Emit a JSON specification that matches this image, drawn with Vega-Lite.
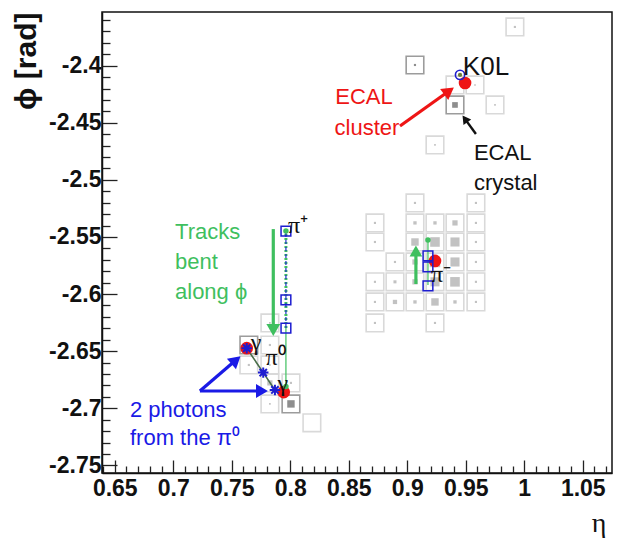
{
  "$schema": "https://vega.github.io/schema/vega-lite/v6.json",
  "autosize": {"type": "none"},
  "width": 510,
  "height": 461,
  "padding": {"left": 102, "top": 12, "right": 7, "bottom": 70},
  "background": "white",
  "config": {
    "view": {"stroke": "#111", "strokeWidth": 1.5},
    "axis": {
      "grid": false,
      "domainColor": "#111",
      "domainWidth": 1.5,
      "tickColor": "#222",
      "tickWidth": 1.3,
      "labelFont": "Liberation Sans",
      "labelFontWeight": "bold",
      "labelFontSize": 23,
      "labelColor": "#111",
      "titleColor": "#111"
    }
  },
  "resolve": {"scale": {"color": "independent", "stroke": "independent", "size": "independent"}},
  "datasets": {
    "crystals": [
      {"eta": 0.9066, "phi": -2.5202, "energy": 0.05, "seed": "no"},
      {"eta": 0.9587, "phi": -2.5202, "energy": 0.05, "seed": "no"},
      {"eta": 0.8724, "phi": -2.5377, "energy": 0.05, "seed": "no"},
      {"eta": 0.9066, "phi": -2.5377, "energy": 0.12, "seed": "no"},
      {"eta": 0.9237, "phi": -2.5377, "energy": 0.12, "seed": "no"},
      {"eta": 0.9408, "phi": -2.5377, "energy": 0.3, "seed": "no"},
      {"eta": 0.9587, "phi": -2.5377, "energy": 0.05, "seed": "no"},
      {"eta": 0.8724, "phi": -2.5544, "energy": 0.05, "seed": "no"},
      {"eta": 0.9066, "phi": -2.5544, "energy": 0.6, "seed": "no"},
      {"eta": 0.9237, "phi": -2.5544, "energy": 1.0, "seed": "no"},
      {"eta": 0.9408, "phi": -2.5544, "energy": 0.9, "seed": "no"},
      {"eta": 0.9587, "phi": -2.5544, "energy": 0.05, "seed": "no"},
      {"eta": 0.8895, "phi": -2.5719, "energy": 0.05, "seed": "no"},
      {"eta": 0.9066, "phi": -2.5719, "energy": 0.3, "seed": "no"},
      {"eta": 0.9237, "phi": -2.5719, "energy": 1.2, "seed": "no"},
      {"eta": 0.9408, "phi": -2.5719, "energy": 0.9, "seed": "no"},
      {"eta": 0.9587, "phi": -2.5719, "energy": 0.05, "seed": "no"},
      {"eta": 0.8724, "phi": -2.5893, "energy": 0.05, "seed": "no"},
      {"eta": 0.8895, "phi": -2.5893, "energy": 0.1, "seed": "no"},
      {"eta": 0.9066, "phi": -2.5893, "energy": 0.3, "seed": "no"},
      {"eta": 0.9237, "phi": -2.5893, "energy": 0.9, "seed": "no"},
      {"eta": 0.9408, "phi": -2.5893, "energy": 1.0, "seed": "no"},
      {"eta": 0.9587, "phi": -2.5893, "energy": 0.05, "seed": "no"},
      {"eta": 0.8724, "phi": -2.6069, "energy": 0.05, "seed": "no"},
      {"eta": 0.8895, "phi": -2.6069, "energy": 0.2, "seed": "no"},
      {"eta": 0.9066, "phi": -2.6069, "energy": 0.12, "seed": "no"},
      {"eta": 0.9237, "phi": -2.6069, "energy": 0.6, "seed": "no"},
      {"eta": 0.9408, "phi": -2.6069, "energy": 0.12, "seed": "no"},
      {"eta": 0.9587, "phi": -2.6069, "energy": 0.05, "seed": "no"},
      {"eta": 0.8724, "phi": -2.6253, "energy": 0.05, "seed": "no"},
      {"eta": 0.9237, "phi": -2.6253, "energy": 0.05, "seed": "no"},
      {"eta": 0.992, "phi": -2.3661, "energy": 0.05, "seed": "no"},
      {"eta": 0.9066, "phi": -2.3994, "energy": 0.05, "seed": "yes"},
      {"eta": 0.9408, "phi": -2.4169, "energy": 0.0, "seed": "no"},
      {"eta": 0.9579, "phi": -2.4169, "energy": 0.03, "seed": "no"},
      {"eta": 0.9408, "phi": -2.4344, "energy": 0.35, "seed": "yes"},
      {"eta": 0.975, "phi": -2.4344, "energy": 0.03, "seed": "no"},
      {"eta": 0.9237, "phi": -2.4694, "energy": 0.03, "seed": "no"},
      {"eta": 0.7826, "phi": -2.6253, "energy": 0.03, "seed": "no"},
      {"eta": 0.7646, "phi": -2.6446, "energy": 0.05, "seed": "yes"},
      {"eta": 0.7826, "phi": -2.6446, "energy": 0.05, "seed": "no"},
      {"eta": 0.7646, "phi": -2.6621, "energy": 0.05, "seed": "no"},
      {"eta": 0.7826, "phi": -2.6621, "energy": 0.03, "seed": "no"},
      {"eta": 0.7826, "phi": -2.6778, "energy": 0.3, "seed": "no"},
      {"eta": 0.8006, "phi": -2.6778, "energy": 0.05, "seed": "no"},
      {"eta": 0.7826, "phi": -2.6962, "energy": 0.03, "seed": "no"},
      {"eta": 0.8006, "phi": -2.6962, "energy": 0.6, "seed": "yes"},
      {"eta": 0.8185, "phi": -2.7128, "energy": 0.0, "seed": "no"}
    ],
    "tracks": [
      {"track": "piplus_ext", "eta": 0.7963, "phi": -2.5448},
      {"track": "piplus_ext", "eta": 0.7963, "phi": -2.6298},
      {"track": "piplus_tail", "eta": 0.7963, "phi": -2.6298},
      {"track": "piplus_tail", "eta": 0.7963, "phi": -2.681},
      {"track": "piminus", "eta": 0.9177, "phi": -2.5527},
      {"track": "piminus", "eta": 0.9177, "phi": -2.592},
      {"track": "pi0", "eta": 0.7628, "phi": -2.6474},
      {"track": "pi0", "eta": 0.7769, "phi": -2.6688},
      {"track": "pi0", "eta": 0.7869, "phi": -2.684}
    ],
    "hits": [
      {"kind": "track", "eta": 0.7963, "phi": -2.5448},
      {"kind": "track", "eta": 0.7963, "phi": -2.6052},
      {"kind": "track", "eta": 0.7963, "phi": -2.6298},
      {"kind": "track", "eta": 0.9177, "phi": -2.5666},
      {"kind": "track", "eta": 0.9177, "phi": -2.5763},
      {"kind": "track", "eta": 0.9177, "phi": -2.5929},
      {"kind": "trackend", "eta": 0.7963, "phi": -2.5448},
      {"kind": "trackend", "eta": 0.7963, "phi": -2.681},
      {"kind": "trackend", "eta": 0.9177, "phi": -2.5527},
      {"kind": "cluster", "eta": 0.7628, "phi": -2.6474},
      {"kind": "cluster", "eta": 0.7944, "phi": -2.6859},
      {"kind": "cluster", "eta": 0.9237, "phi": -2.571},
      {"kind": "cluster", "eta": 0.9494, "phi": -2.4152},
      {"kind": "photon", "eta": 0.7628, "phi": -2.6474},
      {"kind": "photon", "eta": 0.7769, "phi": -2.6688},
      {"kind": "photon", "eta": 0.7869, "phi": -2.684},
      {"kind": "neutral", "eta": 0.9451, "phi": -2.4081}
    ],
    "arrows": [
      {"id": "red", "group": "ECAL cluster", "eta": 0.8938, "phi": -2.4528, "eta2": 0.9357, "phi2": -2.4222},
      {"id": "black", "group": "ECAL crystal", "eta": 0.9587, "phi": -2.4598, "eta2": 0.9493, "phi2": -2.4466},
      {"id": "down", "group": "Tracks", "eta": 0.7855, "phi": -2.5431, "eta2": 0.7855, "phi2": -2.6315},
      {"id": "up", "group": "Tracks", "eta": 0.9074, "phi": -2.5912, "eta2": 0.9074, "phi2": -2.5623},
      {"id": "blue1", "group": "Photons", "eta": 0.7228, "phi": -2.6849, "eta2": 0.7536, "phi2": -2.6578},
      {"id": "blue2", "group": "Photons", "eta": 0.7228, "phi": -2.6849, "eta2": 0.7758, "phi2": -2.6849}
    ],
    "notes": [
      {"group": "ECAL cluster", "text": "ECAL", "eta": 0.863, "phi": -2.4274},
      {"group": "ECAL cluster", "text": "cluster", "eta": 0.8656, "phi": -2.4545},
      {"group": "ECAL crystal", "text": "ECAL", "eta": 0.957, "phi": -2.4764},
      {"group": "ECAL crystal", "text": "crystal", "eta": 0.957, "phi": -2.5027},
      {"group": "Tracks", "text": "Tracks", "eta": 0.7015, "phi": -2.5457},
      {"group": "Tracks", "text": "bent", "eta": 0.7015, "phi": -2.572},
      {"group": "Tracks", "text": "along ϕ", "eta": 0.7015, "phi": -2.5983},
      {"group": "Photons", "text": "2 photons", "eta": 0.663, "phi": -2.7015},
      {"group": "Photons", "text": "from the π⁰", "eta": 0.663, "phi": -2.726}
    ],
    "particles": [
      {"text": "π⁺", "eta": 0.8066, "phi": -2.5404},
      {"text": "π⁰", "eta": 0.7875, "phi": -2.6562},
      {"text": "γ", "eta": 0.7707, "phi": -2.6428},
      {"text": "γ", "eta": 0.7937, "phi": -2.6785},
      {"text": "π⁻", "eta": 0.929, "phi": -2.5835}
    ]
  },
  "encoding": {
    "x": {
      "field": "eta", "type": "quantitative",
      "scale": {"domain": [0.6391, 1.075], "nice": false, "zero": false},
      "axis": {
        "title": "η",
        "titleFont": "Liberation Serif",
        "titleFontSize": 28,
        "titleFontWeight": "normal",
        "titleAlign": "right",
        "titleBaseline": "alphabetic",
        "titleX": 504,
        "titleY": 58,
        "values": [0.64,0.65,0.66,0.67,0.68,0.69,0.7,0.71,0.72,0.73,0.74,0.75,0.76,0.77,0.78,0.79,0.8,0.81,0.82,0.83,0.84,0.85,0.86,0.87,0.88,0.89,0.9,0.91,0.92,0.93,0.94,0.95,0.96,0.97,0.98,0.99,1,1.01,1.02,1.03,1.04,1.05,1.06,1.07],
        "labelExpr": "round(datum.value*100) % 5 == 0 ? toString(datum.value) : ''",
        "tickSize": {"condition": {"test": "round(datum.value*100) % 5 == 0", "value": -13}, "value": -7},
        "labelPadding": 17,
        "labelOverlap": false
      }
    },
    "y": {
      "field": "phi", "type": "quantitative",
      "scale": {"domain": [-2.7567, -2.353], "nice": false, "zero": false},
      "axis": {
        "title": "ϕ [rad]",
        "titleFont": "Liberation Sans",
        "titleFontSize": 30,
        "titleFontWeight": "bold",
        "titleAngle": -90,
        "titleAlign": "right",
        "titleBaseline": "middle",
        "titleX": -76,
        "titleY": 0,
        "values": [-2.75,-2.74,-2.73,-2.72,-2.71,-2.7,-2.69,-2.68,-2.67,-2.66,-2.65,-2.64,-2.63,-2.62,-2.61,-2.6,-2.59,-2.58,-2.57,-2.56,-2.55,-2.54,-2.53,-2.52,-2.51,-2.5,-2.49,-2.48,-2.47,-2.46,-2.45,-2.44,-2.43,-2.42,-2.41,-2.4,-2.39,-2.38,-2.37,-2.36],
        "labelExpr": "round(datum.value*100) % 5 == 0 ? toString(datum.value) : ''",
        "tickSize": {"condition": {"test": "round(datum.value*100) % 5 == 0", "value": -15}, "value": -8},
        "labelPadding": 16,
        "labelOverlap": false
      }
    }
  },
  "layer": [
    {
      "data": {"name": "crystals"},
      "mark": {"type": "point", "shape": "square", "filled": false, "size": 310, "strokeWidth": 1.6, "opacity": 1},
      "encoding": {
        "stroke": {"field": "seed", "type": "nominal", "scale": {"domain": ["no", "yes"], "range": ["#d9d9d9", "#9c9c9c"]}, "legend": null}
      }
    },
    {
      "data": {"name": "crystals"},
      "transform": [{"filter": "datum.energy > 0"}],
      "mark": {"type": "point", "shape": "square", "filled": true, "opacity": 1},
      "encoding": {
        "size": {"field": "energy", "type": "quantitative", "scale": {"domain": [0, 1.2], "range": [0, 110]}, "legend": null},
        "color": {"field": "seed", "type": "nominal", "scale": {"domain": ["no", "yes"], "range": ["#c2c2c2", "#8e8e8e"]}, "legend": null}
      }
    },
    {
      "data": {"name": "tracks"},
      "transform": [{"filter": "datum.track == 'piplus_ext'"}],
      "mark": {"type": "line", "color": "#3fbf5f", "strokeWidth": 3, "strokeDash": [2, 2]},
      "encoding": {"order": {"field": "phi", "type": "quantitative"}}
    },
    {
      "data": {"name": "tracks"},
      "transform": [{"filter": "datum.track == 'piplus_ext'"}],
      "mark": {"type": "line", "color": "#2233cc", "strokeWidth": 1.2, "strokeDash": [4, 3]},
      "encoding": {"order": {"field": "phi", "type": "quantitative"}}
    },
    {
      "data": {"name": "tracks"},
      "transform": [{"filter": "datum.track == 'piplus_tail' || datum.track == 'piminus'"}],
      "mark": {"type": "line", "color": "#4cc56a", "strokeWidth": 1.3},
      "encoding": {"detail": {"field": "track"}, "order": {"field": "phi", "type": "quantitative"}}
    },
    {
      "data": {"name": "tracks"},
      "transform": [{"filter": "datum.track == 'pi0'"}],
      "mark": {"type": "line", "color": "#4a6e4a", "strokeWidth": 1.6},
      "encoding": {"order": {"field": "eta", "type": "quantitative"}}
    },
    {
      "data": {"name": "hits"},
      "transform": [{"filter": "datum.kind == 'cluster'"}],
      "mark": {"type": "point", "shape": "circle", "filled": true, "size": 160, "color": "#ee1515", "opacity": 1}
    },
    {
      "data": {"name": "hits"},
      "transform": [{"filter": "datum.kind == 'trackend'"}],
      "mark": {"type": "point", "shape": "circle", "filled": true, "size": 30, "color": "#3fbf5f", "opacity": 1}
    },
    {
      "data": {"name": "hits"},
      "transform": [{"filter": "datum.kind == 'track'"}],
      "mark": {"type": "point", "shape": "square", "filled": false, "size": 95, "color": "#1d1dd0", "strokeWidth": 1.5, "opacity": 1}
    },
    {
      "data": {"name": "hits"},
      "transform": [{"filter": "datum.kind == 'photon'"}],
      "mark": {"type": "point", "shape": "M-1,0L1,0M0,-1L0,1M-0.7,-0.7L0.7,0.7M-0.7,0.7L0.7,-0.7", "filled": false, "size": 110, "color": "#1d1dd0", "strokeWidth": 2, "opacity": 1}
    },
    {
      "data": {"name": "hits"},
      "transform": [{"filter": "datum.kind == 'neutral'"}],
      "mark": {"type": "point", "shape": "circle", "filled": true, "size": 18, "color": "#6b7a3a", "opacity": 1}
    },
    {
      "data": {"name": "hits"},
      "transform": [{"filter": "datum.kind == 'neutral'"}],
      "mark": {"type": "point", "shape": "circle", "filled": false, "size": 85, "color": "#1d1dd0", "strokeWidth": 1.6, "opacity": 1}
    },
    {
      "data": {"name": "arrows"},
      "transform": [{"filter": "datum.id != 'black'"}],
      "mark": {"type": "rule", "strokeWidth": 3.2},
      "encoding": {
        "x2": {"field": "eta2"},
        "y2": {"field": "phi2"},
        "color": {"field": "group", "type": "nominal", "scale": {"domain": ["ECAL cluster", "ECAL crystal", "Tracks", "Photons"], "range": ["#ee1515", "#111111", "#3fbf5f", "#1a1ae6"]}, "legend": null}
      }
    },
    {
      "data": {"name": "arrows"},
      "transform": [{"filter": "datum.id == 'black'"}],
      "mark": {"type": "rule", "strokeWidth": 2.4, "color": "#111111"},
      "encoding": {"x2": {"field": "eta2"}, "y2": {"field": "phi2"}}
    },
    {
      "data": {"name": "arrows"},
      "transform": [{"filter": "datum.id == 'red'"}],
      "mark": {"type": "point", "shape": "triangle-up", "filled": true, "size": 190, "angle": 54, "color": "#ee1515", "opacity": 1},
      "encoding": {"x": {"field": "eta2", "type": "quantitative"}, "y": {"field": "phi2", "type": "quantitative"}}
    },
    {
      "data": {"name": "arrows"},
      "transform": [{"filter": "datum.id == 'black'"}],
      "mark": {"type": "point", "shape": "triangle-up", "filled": true, "size": 90, "angle": -36, "color": "#111111", "opacity": 1},
      "encoding": {"x": {"field": "eta2", "type": "quantitative"}, "y": {"field": "phi2", "type": "quantitative"}}
    },
    {
      "data": {"name": "arrows"},
      "transform": [{"filter": "datum.id == 'down'"}],
      "mark": {"type": "point", "shape": "triangle-up", "filled": true, "size": 190, "angle": 180, "color": "#3fbf5f", "opacity": 1},
      "encoding": {"x": {"field": "eta2", "type": "quantitative"}, "y": {"field": "phi2", "type": "quantitative"}}
    },
    {
      "data": {"name": "arrows"},
      "transform": [{"filter": "datum.id == 'up'"}],
      "mark": {"type": "point", "shape": "triangle-up", "filled": true, "size": 160, "angle": 0, "color": "#3fbf5f", "opacity": 1},
      "encoding": {"x": {"field": "eta2", "type": "quantitative"}, "y": {"field": "phi2", "type": "quantitative"}}
    },
    {
      "data": {"name": "arrows"},
      "transform": [{"filter": "datum.id == 'blue1'"}],
      "mark": {"type": "point", "shape": "triangle-up", "filled": true, "size": 190, "angle": 49, "color": "#1a1ae6", "opacity": 1},
      "encoding": {"x": {"field": "eta2", "type": "quantitative"}, "y": {"field": "phi2", "type": "quantitative"}}
    },
    {
      "data": {"name": "arrows"},
      "transform": [{"filter": "datum.id == 'blue2'"}],
      "mark": {"type": "point", "shape": "triangle-up", "filled": true, "size": 190, "angle": 90, "color": "#1a1ae6", "opacity": 1},
      "encoding": {"x": {"field": "eta2", "type": "quantitative"}, "y": {"field": "phi2", "type": "quantitative"}}
    },
    {
      "data": {"name": "notes"},
      "transform": [{"filter": "datum.group == 'ECAL cluster'"}],
      "mark": {"type": "text", "font": "Liberation Sans", "fontSize": 22, "align": "center", "baseline": "middle", "color": "#ee1515"},
      "encoding": {"text": {"field": "text"}}
    },
    {
      "data": {"name": "notes"},
      "transform": [{"filter": "datum.group != 'ECAL cluster'"}],
      "mark": {"type": "text", "font": "Liberation Sans", "fontSize": 22, "align": "left", "baseline": "middle"},
      "encoding": {
        "text": {"field": "text"},
        "color": {"field": "group", "type": "nominal", "scale": {"domain": ["ECAL cluster", "ECAL crystal", "Tracks", "Photons"], "range": ["#ee1515", "#111111", "#3fbf5f", "#1a1ae6"]}, "legend": null}
      }
    },
    {
      "data": {"values": [{"text": "K0L", "eta": 0.9673, "phi": -2.4011}]},
      "mark": {"type": "text", "font": "Liberation Sans", "fontSize": 26, "align": "center", "baseline": "middle", "color": "#111111"},
      "encoding": {"text": {"field": "text"}}
    },
    {
      "data": {"name": "particles"},
      "mark": {"type": "text", "font": "Liberation Serif", "fontSize": 24, "align": "center", "baseline": "middle", "color": "#111111"},
      "encoding": {"text": {"field": "text"}}
    }
  ]
}
